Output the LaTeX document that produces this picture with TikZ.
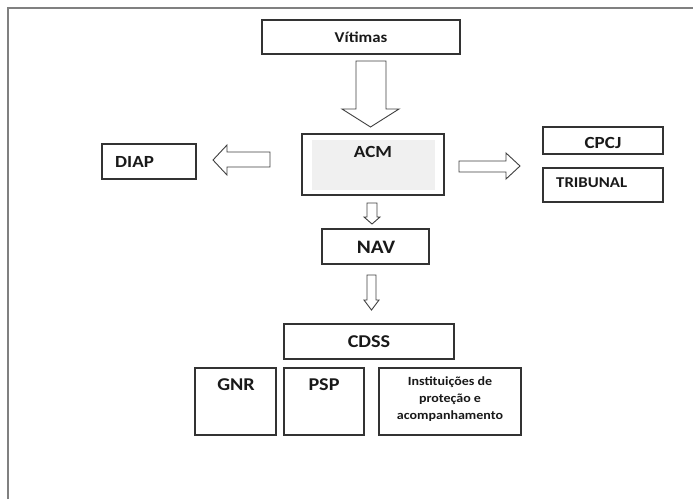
\documentclass[tikz,border=0pt]{standalone}
\usepackage{fontspec}
\setmainfont{Carlito}[FakeStretch=1.12]
\begin{document}
\begin{tikzpicture}[x=1pt,y=-1pt,
  box/.style={draw=black!80,line width=1.1pt,fill=white,inner sep=0pt},
  blockarrow/.style={draw=black!75,line width=0.9pt,fill=white,line join=miter},
  lbl/.style={inner sep=0pt,font=\bfseries\fontsize{17}{20}\selectfont,text=black!90},
  small/.style={inner sep=0pt,font=\bfseries\fontsize{12.5}{17}\selectfont,text=black!90,align=center}]
\useasboundingbox (0,0) rectangle (693,499);
% frame
\draw[line width=2pt,draw=black!50] (8,499) -- (8,8) -- (693,8);
% boxes
\node[box,minimum width=198pt,minimum height=34pt] (vit) at (361,37) {};
\node[box,minimum width=142pt,minimum height=61pt] (acm) at (373,164.5) {};
\fill[black!6] (312,140) rectangle (435,190);
\node[box,minimum width=94pt,minimum height=35pt] (diap) at (149,161.5) {};
\node[box,minimum width=120pt,minimum height=27pt] (cpcj) at (603,140.5) {};
\node[box,minimum width=120pt,minimum height=34pt] (trib) at (603,185) {};
\node[box,minimum width=107pt,minimum height=35pt] (nav) at (375.5,246.5) {};
\node[box,minimum width=170pt,minimum height=35pt] (cdss) at (369,341.5) {};
\node[box,minimum width=81pt,minimum height=67pt] (gnr) at (235.5,401.5) {};
\node[box,minimum width=80pt,minimum height=67pt] (psp) at (324,401.5) {};
\node[box,minimum width=142pt,minimum height=67pt] (inst) at (450,401.5) {};
% labels
\node[lbl,font=\bfseries\fontsize{15}{18}\selectfont] (tvit) at (361,37) {Vítimas};
\node[lbl] (tacm) at (373,152) {ACM};
\node[lbl,anchor=west] (tdiap) at (115,162) {DIAP};
\node[lbl] (tcpcj) at (603,143) {CPCJ};
\node[lbl,anchor=west,font=\bfseries\fontsize{15}{18}\selectfont] (ttrib) at (556,183) {TRIBUNAL};
\node[lbl,font=\bfseries\fontsize{19}{22}\selectfont] (tnav) at (376,247) {NAV};
\node[lbl,font=\bfseries\fontsize{18}{22}\selectfont] (tcdss) at (369,342) {CDSS};
\node[lbl,font=\bfseries\fontsize{18}{22}\selectfont] (tgnr) at (236,385) {GNR};
\node[lbl,font=\bfseries\fontsize{18}{22}\selectfont] (tpsp) at (324,385) {PSP};
\node[small] (tinst) at (450,399) {Instituições de\\proteção e\\acompanhamento};
% block arrows
\draw[blockarrow] (356,61) -- (386,61) -- (386,109) -- (399,109) -- (370.5,127) -- (342,109) -- (356,109) -- cycle;
\draw[blockarrow] (270,152) -- (270,167) -- (227,167) -- (227,175) -- (213,160) -- (227,145) -- (227,152) -- cycle;
\draw[blockarrow] (459,161) -- (506,161) -- (506,153) -- (520,166) -- (506,179) -- (506,172) -- (459,172) -- cycle;
\draw[blockarrow] (367,203) -- (377,203) -- (377,217) -- (380,217) -- (372,224) -- (364,217) -- (367,217) -- cycle;
\draw[blockarrow] (367,275) -- (376,275) -- (376,300) -- (379,300) -- (371.5,310) -- (364,300) -- (367,300) -- cycle;
\end{tikzpicture}
\end{document}
